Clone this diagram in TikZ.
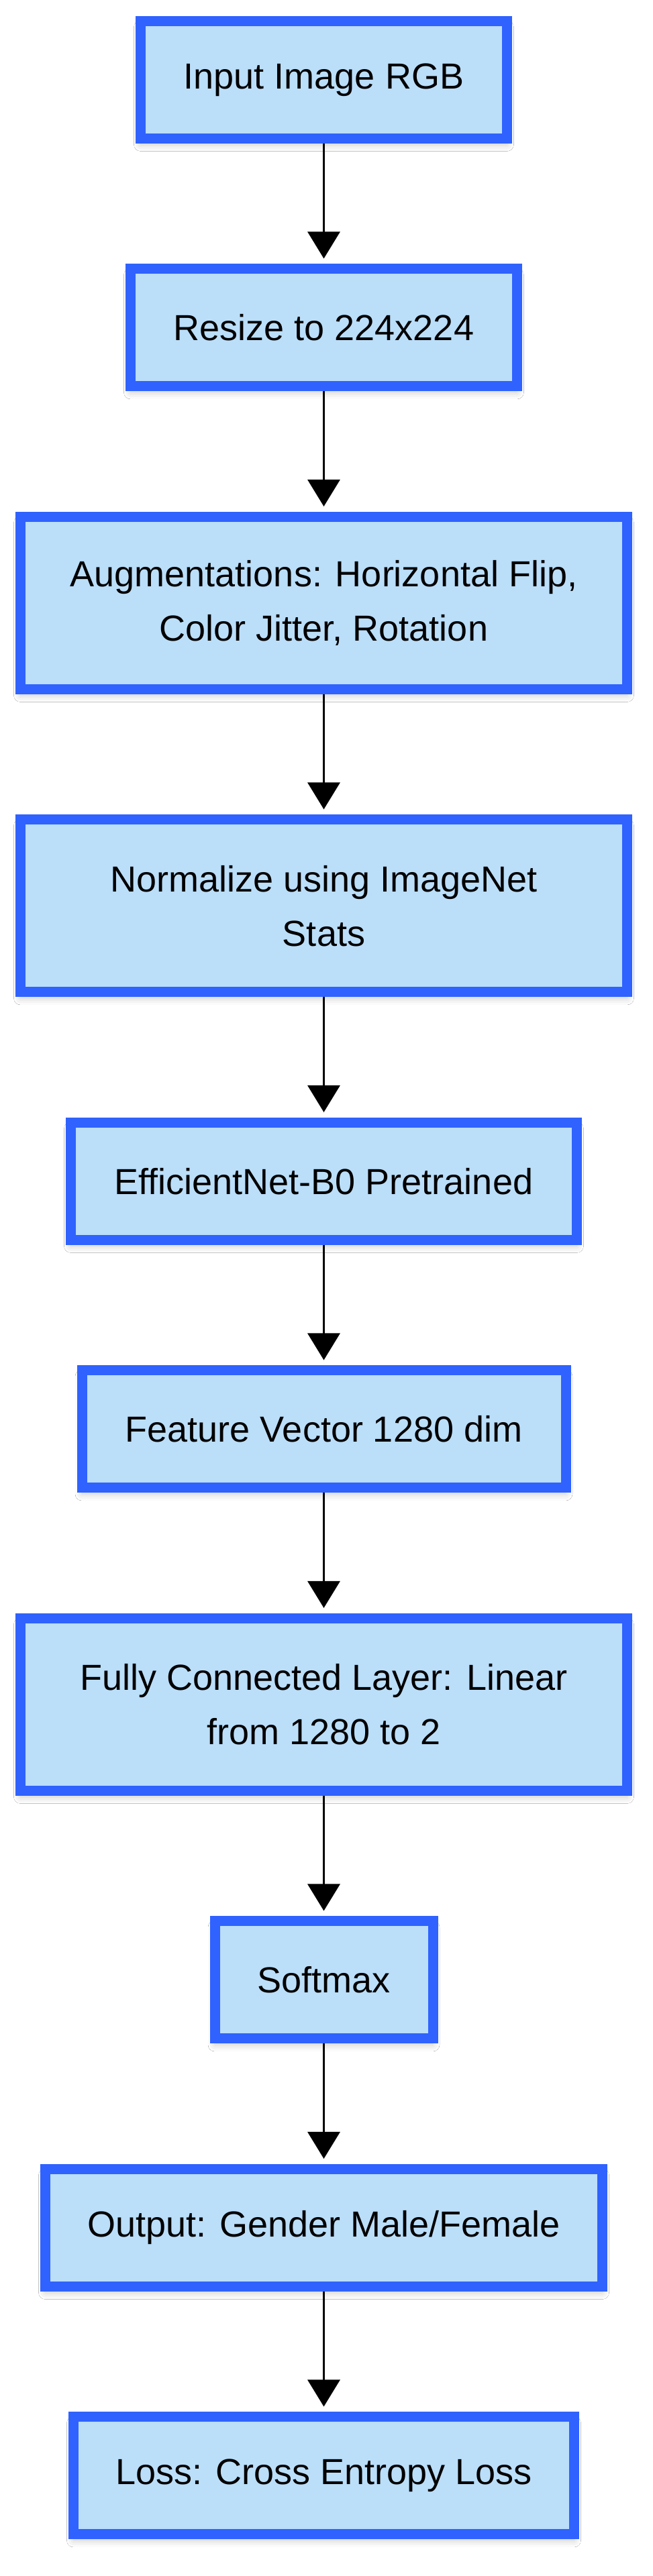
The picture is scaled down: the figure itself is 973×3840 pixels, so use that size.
\documentclass[tikz,border=0pt]{standalone}
\usepackage{fontspec}
\setmainfont{Liberation Sans}
\usepackage{xcolor}
\usepackage{tikz}
\usetikzlibrary{arrows.meta, shadows.blur}

\definecolor{stageblue}{HTML}{2F62FF}
\definecolor{stagefill}{HTML}{BBDEF9}

\begin{document}
\begin{tikzpicture}[x=1pt, y=1pt, font=\fontsize{54pt}{81pt}\selectfont,
    stage/.style={draw=stageblue, fill=stagefill, line width=15pt, outer sep=7.5pt, inner sep=0pt,
        minimum height=175pt, align=center,
        blur shadow={shadow xshift=0pt, shadow yshift=-9pt, shadow blur radius=10pt, shadow opacity=22}},
    widestage/.style={stage, minimum width=904pt, minimum height=257pt},
    flow/.style={-{Triangle[width=48pt, length=40pt]}, line width=3.3pt, shorten >=8pt}]

    % 1. Page (keeps the margins of the picture)
    \fill[white] (0,0) rectangle (973,3840);
    \useasboundingbox (0,0) rectangle (973,3840);

    % 2. Pipeline stages, top to bottom
    \node[stage, minimum width=546pt] (inp) at (482.5, 3721) {Input Image RGB};
    \node[stage, minimum width=576pt] (rsz) at (482.5, 3351.5) {Resize to 224x224};
    \node[widestage] (aug) at (482.5, 2941) {Augmentations: Horizontal Flip,\\ Color Jitter, Rotation};
    \node[widestage] (norm) at (482.5, 2489.5) {Normalize using ImageNet\\ Stats};
    \node[stage, minimum width=754pt] (enet) at (482.5, 2079) {EfficientNet-B0 Pretrained};
    \node[stage, minimum width=721pt] (feat) at (482.5, 1709.5) {Feature Vector 1280 dim};
    \node[widestage] (fc) at (482.5, 1299) {Fully Connected Layer: Linear\\ from 1280 to 2};
    \node[stage, minimum width=325pt] (soft) at (482.5, 888.5) {Softmax};
    \node[stage, minimum width=830pt] (outp) at (482.5, 519) {Output: Gender Male/Female};
    \node[stage, minimum width=746pt] (loss) at (482.5, 149.5) {Loss: Cross Entropy Loss};

    % 3. Flow arrows
    \draw[flow] (inp) -- (rsz);
    \draw[flow] (rsz) -- (aug);
    \draw[flow] (aug) -- (norm);
    \draw[flow] (norm) -- (enet);
    \draw[flow] (enet) -- (feat);
    \draw[flow] (feat) -- (fc);
    \draw[flow] (fc) -- (soft);
    \draw[flow] (soft) -- (outp);
    \draw[flow] (outp) -- (loss);

\end{tikzpicture}
\end{document}
